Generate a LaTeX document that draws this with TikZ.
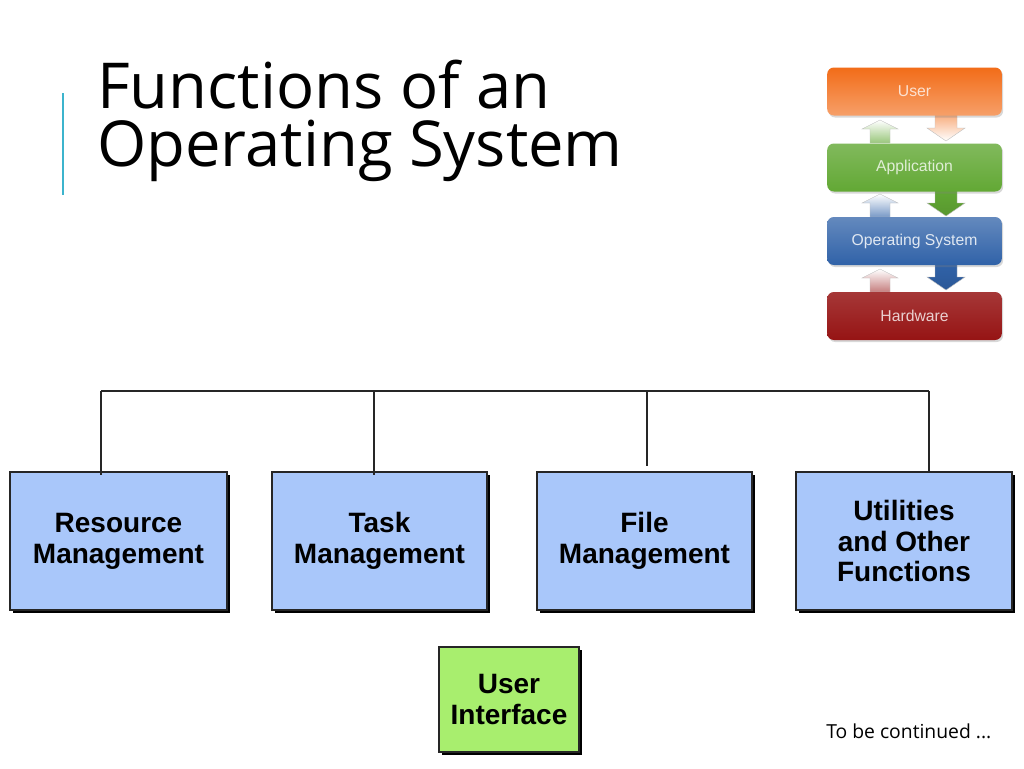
\documentclass[tikz,border=0pt]{standalone}
\usepackage{fontspec}
\setmainfont{Open Sans}
\newfontfamily\boxfont{Liberation Sans}
\usetikzlibrary{shadows}
\definecolor{accent}{RGB}{60,180,205}
\definecolor{boxblue}{RGB}{169,199,250}
\definecolor{boxgreen}{RGB}{168,238,110}
\definecolor{userorange}{RGB}{242,108,24}
\definecolor{appgreen}{RGB}{98,168,52}
\definecolor{osblue}{RGB}{48,98,168}
\definecolor{hwred}{RGB}{150,20,20}

\begin{document}
\begin{tikzpicture}[
    x=0.75pt, y=-0.75pt,
    fn/.style={draw=black!85, fill=boxblue, line width=0.8pt, align=center, inner sep=0pt,
      minimum height=103.5pt, font=\boxfont\bfseries\fontsize{21}{23.2}\selectfont,
      drop shadow={shadow xshift=2.4pt, shadow yshift=-2.4pt, fill=black, opacity=1}},
    layer/.style={rounded corners=5pt, minimum width=131pt, minimum height=36pt, inner sep=0pt,
      font=\boxfont\fontsize{11.8}{13}\selectfont,
      drop shadow={shadow xshift=1pt, shadow yshift=-1.5pt, opacity=0.3}},
    fat/.style={draw=black!25, line width=0.3pt},
    tree/.style={line width=1pt, black!85}
  ]
    \useasboundingbox[fill=white] (0,0) rectangle (1024,768);

    % title
    \draw[accent, line width=1.4pt] (63,93) -- (63,195);
    \node[anchor=base west, inner sep=0pt, font=\fontsize{47.5}{48}\selectfont] (title) at (97,108) {Functions of an};
    \node[anchor=base west, inner sep=0pt, font=\fontsize{47.5}{48}\selectfont] (title2) at (97,166) {Operating System};

    % layer picture, arrows first
    \shade[fat, top color=white, bottom color=appgreen!65] (870,143) -- (870,129) -- (862,129) -- (880,120) -- (898,129) -- (890,129) -- (890,143) -- cycle;
    \shade[fat, top color=userorange!55, bottom color=white] (935,115) -- (935,128) -- (927,128) -- (946,141) -- (965,128) -- (957,128) -- (957,115) -- cycle;
    \shade[fat, top color=white, bottom color=osblue!65] (870,217) -- (870,203) -- (862,203) -- (880,194) -- (898,203) -- (890,203) -- (890,217) -- cycle;
    \shade[fat, top color=appgreen, bottom color=appgreen!90!black] (935,190) -- (935,203) -- (927,203) -- (946,216) -- (965,203) -- (957,203) -- (957,190) -- cycle;
    \shade[fat, top color=white, bottom color=hwred!55] (870,292) -- (870,278) -- (862,278) -- (880,269) -- (898,278) -- (890,278) -- (890,292) -- cycle;
    \shade[fat, top color=osblue, bottom color=osblue!90!black] (935,264) -- (935,277) -- (927,277) -- (946,290) -- (965,277) -- (957,277) -- (957,264) -- cycle;

    \node[layer, top color=userorange, bottom color=userorange!65!white, text=userorange!20!white] (user) at (914.5,91.5) {User};
    \node[layer, top color=appgreen!80!white, bottom color=appgreen, text=appgreen!20!white] (app) at (914.5,167.5) {Application};
    \node[layer, top color=osblue!75!white, bottom color=osblue, text=osblue!15!white] (os) at (914.5,241) {Operating System};
    \node[layer, top color=hwred!85!white, bottom color=hwred, text=hwred!20!white] (hw) at (914.5,316) {Hardware};

    % functions
    \node[fn, minimum width=162.75pt] (res) at (118.5,541) {Resource\\Management};
    \node[fn, minimum width=161.25pt] (task) at (379.5,541) {Task\\Management};
    \node[fn, minimum width=161.25pt] (file) at (644.5,541) {File\\Management};
    \node[fn, minimum width=162pt] (util) at (904,541) {Utilities\\and Other\\Functions};
    \node[fn, fill=boxgreen, minimum width=105pt, minimum height=78.75pt] (ui) at (509,699.5) {User\\Interface};

    \coordinate (bar1) at (101,391);
    \coordinate (bar2) at (374,391);
    \coordinate (bar3) at (647,391);
    \coordinate (bar4) at (929,391);
    \draw[tree] (bar1) -- (bar4);
    \draw[tree] (bar1) -- ([yshift=-3pt]bar1 |- res.north);
    \draw[tree] (bar2) -- ([yshift=-3pt]bar2 |- task.north);
    \draw[tree] (bar3) -- ([yshift=4pt]bar3 |- file.north);
    \draw[tree] (bar4) -- (bar4 |- util.north);

    \node[anchor=base west, inner sep=0pt, font=\fontsize{14.5}{16}\selectfont] (more) at (826,738) {To be continued ...};
  \end{tikzpicture}
\end{document}
